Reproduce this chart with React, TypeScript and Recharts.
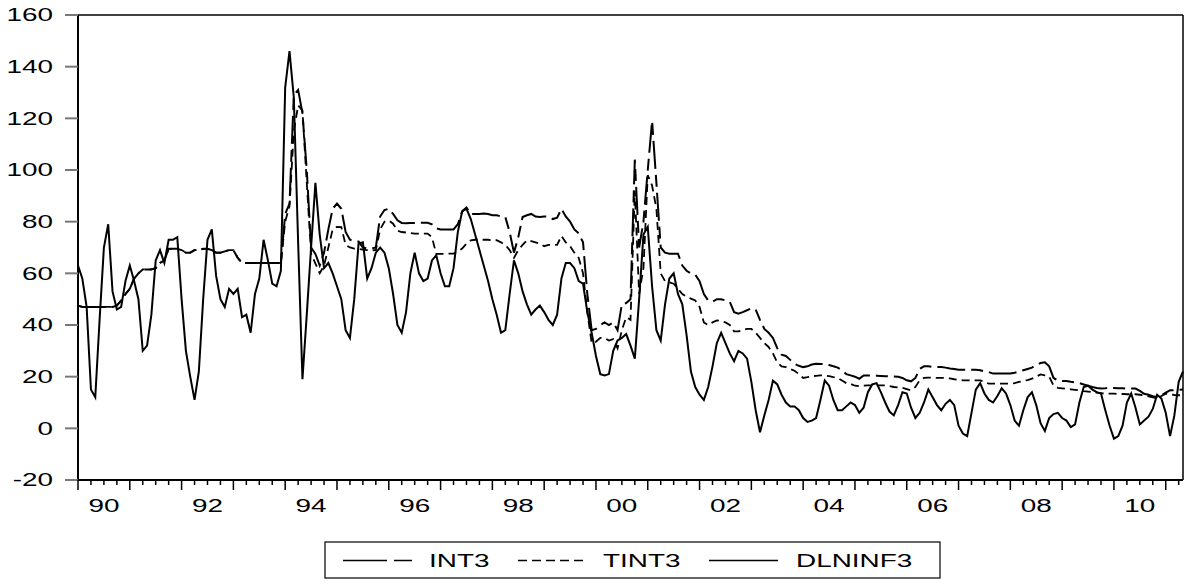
import { LineChart, Line, XAxis, YAxis, Legend, ReferenceLine } from "recharts";

// monthly, 1990:01 - 2011:05
const START_YEAR = 1990;

const dlninf3 = [
  63, 58, 47, 15, 12, 42, 70, 79, 53, 46,
  47, 57, 63, 57, 50, 30, 32, 44, 65, 69,
  64, 73, 73, 74, 50, 30, 20, 11, 22, 50,
  73, 77, 59, 50, 47, 54, 52, 54, 43, 44,
  37, 52, 58, 73, 65, 56, 55, 61, 132, 146,
  128, 72, 19, 44, 70, 95, 75, 62, 64, 60,
  55, 50, 38, 35, 50, 71.5, 72, 58, 62, 68,
  70, 68, 62, 52, 40, 37, 45, 60, 68, 60,
  57, 58, 65, 67, 60, 55, 55, 62, 76, 84,
  85, 81, 75, 69, 63, 57, 50, 44, 37, 38,
  52, 65, 60, 53, 48, 44, 46, 47.5, 45, 42,
  40, 44, 58, 64, 64, 62, 57, 56, 45, 37,
  28, 21, 20.5, 21, 30, 34, 35, 36.5, 32, 27,
  50, 75, 78, 55, 38, 34, 48, 58, 60, 52,
  48, 36, 22, 16, 13, 11, 16, 24, 33, 37,
  33, 29, 26, 30, 29, 27, 18, 7, -1.5, 5,
  11, 18.5, 17, 13, 10, 8.5, 8.5, 7, 4, 2.5,
  3, 4, 11, 18.5, 16.5, 11, 7, 7, 8.5, 10,
  9, 6, 8, 14, 17, 17.5, 14, 10, 6.5, 5,
  9, 14, 13.5, 8, 4, 6, 10, 15, 12, 9,
  7, 9.5, 11, 9, 1, -2, -3, 6, 15, 17.5,
  13.5, 11, 10, 12.5, 15.5, 13.5, 9, 3, 1, 7,
  12, 14, 9, 2, -1, 4, 5.5, 6, 4, 3,
  0.5, 1.5, 10, 16, 16.5, 15, 14, 13.5, 7, 1,
  -4, -3, 1, 10, 13.5, 8, 1.5, 3, 4.5, 7.5,
  13, 11.5, 6, -3, 5, 18, 22,
];

const int3 = [
  47.5, 47, 47, 47, 47, 47, 47, 47, 47, 47.5,
  49.5, 52, 54, 58, 60, 61.5, 61.5, 61.5, 62, 64,
  65, 69.5, 69.5, 69.5, 69, 68, 68, 69, 69, 69.5,
  69.5, 69, 68, 68, 68.5, 69, 69, 66, 64, 64,
  64, 64, 64, 64, 64, 64, 64, 64, 83, 87,
  129, 131, 122, 100, 70, 67.5, 63, 68, 77, 85,
  87, 85, 76, 73, 72.5, 72.3, 70, 69.6, 69.6, 70,
  82, 84.5, 85, 83, 80.5, 79.5, 79.4, 79.5, 79.5, 79.5,
  79.6, 79.6, 79, 77.4, 77, 77, 77, 77, 79, 84,
  85.5, 83, 83, 83, 83.2, 83, 82.5, 82.5, 82, 81.8,
  76, 68, 74, 81.8, 82.5, 83, 82, 81.8, 82, 82,
  81, 81.5, 85, 82, 80, 77, 75.5, 72, 52, 38,
  38.5, 40, 41, 40, 41, 38, 48, 48.5, 50, 104,
  70, 80, 100, 119, 95, 70, 68, 67.6, 67.6, 67.6,
  63, 61, 60, 59.5, 57, 52, 49.5, 49, 50, 50,
  49.5, 49, 45, 44.4, 45, 45.7, 46.5, 46, 42, 38.5,
  37, 35, 31, 28.5, 28, 26.5, 25, 24.2, 23.7, 24,
  24.7, 25, 24.9, 24.9, 24.5, 24, 23.5, 22.5, 21, 20.5,
  20, 19.2, 20.5, 20.5, 20.5, 20.4, 20.3, 20.2, 20.1, 20.1,
  20, 19.5, 18.6, 18.2, 19.5, 23, 24, 24, 23.8, 23.7,
  23.7, 23.5, 23.2, 23, 22.7, 22.7, 22.7, 22.7, 22.7, 22.5,
  22, 21.8, 21.2, 21.2, 21.2, 21.2, 21.2, 21.5, 22, 22.5,
  23, 23.5, 24.5, 25.3, 25.6, 24, 19.5, 18.5, 18.3, 18.3,
  18, 17.8, 17.5, 17, 16.5, 16, 15.6, 15.4, 15.5, 15.7,
  15.6, 15.5, 15.5, 15.4, 15.4, 15.4, 14.5, 13.4, 13, 12.4,
  12.1, 12.8, 13.8, 14.7, 14.8, 14.9, 15,
];

const tint3 = [
  47.5, 47, 47, 47, 47, 47, 47, 47, 47, 47.5,
  49.5, 52, 54, 58, 60, 61.5, 61.5, 61.5, 62, 64,
  65, 69.5, 69.5, 69.5, 69, 68, 68, 69, 69, 69.5,
  69.5, 69, 68, 68, 68.5, 69, 69, 66, 64, 64,
  64, 64, 64, 64, 64, 64, 64, 64, 80, 86,
  115, 125, 123, 95, 67.6, 63.8, 60, 63, 70, 77,
  78, 77.9, 71, 70, 69.6, 69.5, 69.2, 69, 68.9, 69,
  77, 80, 80.5, 79.2, 76.5, 76, 75.8, 75.6, 75.4, 75.4,
  75.4, 75.4, 74, 67.5, 67.5, 67.6, 67.6, 67.6, 68.5, 69.6,
  71.5, 72.8, 73, 73, 73, 73, 72.8, 72.8, 72, 71,
  69, 66, 69, 71, 72.8, 72.5, 72, 71.5, 70.5, 71,
  71, 71, 74.5, 72, 70.5, 68, 66, 60, 45, 33,
  33.5, 35, 35, 34, 34.5, 31, 38, 43, 42, 92,
  52, 62, 98, 94, 85, 60, 57, 56.5, 56, 54,
  52, 51, 50.2, 49.5, 47, 41, 40, 41, 41.8, 41.5,
  41, 40, 37.5, 37.5, 38, 38.5, 38.5, 37, 35, 33,
  31.5, 29, 25.5, 24, 23.7, 23, 22.3, 21, 19.5, 19.8,
  20.2, 20.3, 20.5, 20.5, 20.2, 19.8, 19.5, 18.5, 17.5, 17.2,
  16.5, 16.3, 16.5, 16.6, 16.6, 16.6, 16.6, 16.6, 16.4, 16,
  15.8, 15.7, 15.2, 14.7, 16, 18.6, 19.5, 19.6, 19.6, 19.5,
  19.5, 19.5, 19.3, 19, 18.8, 18.6, 18.6, 18.6, 18.6, 18.6,
  18, 17.3, 17.3, 17.3, 17.3, 17.3, 17.3, 17.5, 18, 18.3,
  18.7, 19.2, 20, 20.9, 20.5, 20, 16.6, 15.7, 15.5, 15.3,
  15.1, 14.9, 14.7, 14.4, 14.2, 14, 13.8, 13.6, 13.4, 13.4,
  13.4, 13.3, 13.3, 13.2, 13.2, 13.2, 13, 12.7, 12.4, 12,
  11.7, 12.5, 13.4, 13.2, 12.9, 12.8, 12.8,
];

const yearLabels = ["90", "92", "94", "96", "98", "00", "02", "04", "06", "08", "10"];
const yTicks = [-20, 0, 20, 40, 60, 80, 100, 120, 140, 160];

const series = [
  { key: "INT3", dash: "28 6 12 6", legendDash: "44 7 18", width: 2 },
  { key: "TINT3", dash: "8 5", legendDash: "9 5", width: 1.8 },
  { key: "DLNINF3", dash: undefined, legendDash: undefined, width: 2 },
];

const data = dlninf3.map((v, i) => ({
  i,
  date: `${START_YEAR + Math.floor(i / 12)}:${String((i % 12) + 1).padStart(2, "0")}`,
  INT3: int3[i],
  TINT3: tint3[i],
  DLNINF3: v,
}));

const last = data.length - 1;
const quarterTicks = data.filter((d) => d.i % 3 === 0).map((d) => d.i);

const FONT = "'Liberation Sans', Arial, sans-serif";
const STRETCH = 1.55;

function XTick(props: any) {
  const { x, y, payload } = props;
  const i = payload.value as number;
  const long = i % 12 === 0;
  const k = (i - 6) / 24;
  const label = Number.isInteger(k) ? yearLabels[k] : undefined;
  return (
    <g>
      <line x1={x} x2={x} y1={y} y2={y + (long ? 10 : 5)} stroke="#000" strokeWidth={1.5} />
      {label && (
        <text
          transform={`translate(${x},${y + 32}) scale(${STRETCH},1)`}
          textAnchor="middle"
          fontFamily={FONT}
          fontSize={18}
          fill="#000"
        >
          {label}
        </text>
      )}
    </g>
  );
}

function YTick(props: any) {
  const { x, y, payload } = props;
  return (
    <text
      transform={`translate(${x},${y}) scale(${STRETCH},1)`}
      textAnchor="end"
      dy="0.36em"
      fontFamily={FONT}
      fontSize={18}
      fill="#000"
    >
      {payload.value}
    </text>
  );
}

function LegendBox() {
  const items = [
    { s: series[0], lx: 19, tx: 105 },
    { s: series[1], lx: 194, tx: 279 },
    { s: series[2], lx: 385, tx: 472 },
  ];
  return (
    <svg width={618} height={39} style={{ display: "block" }}>
      <rect x={1} y={1} width={615} height={36} fill="#fff" stroke="#000" strokeWidth={1.2} />
      {items.map(({ s, lx, tx }) => (
        <g key={s.key}>
          <line
            x1={lx}
            x2={lx + 69}
            y1={19.5}
            y2={19.5}
            stroke="#000"
            strokeWidth={1.6}
            strokeDasharray={s.legendDash}
          />
          <text
            transform={`translate(${tx},26) scale(${STRETCH},1)`}
            fontFamily={FONT}
            fontSize={18}
            fill="#000"
          >
            {s.key}
          </text>
        </g>
      ))}
    </svg>
  );
}

export default function App() {
  return (
    <div style={{ position: "absolute", left: 0, top: 0, background: "#fff" }}>
      <LineChart width={1189} height={584} data={data} margin={{ top: 15, right: 6, bottom: 0, left: 0 }}>
        <XAxis
          dataKey="i"
          type="number"
          domain={[0, last]}
          ticks={quarterTicks}
          interval={0}
          height={104}
          tickSize={0}
          tickMargin={0}
          tickLine={false}
          axisLine={{ stroke: "#000", strokeWidth: 2 }}
          tick={<XTick />}
        />
        <YAxis
          type="number"
          domain={[-20, 160]}
          ticks={yTicks}
          interval={0}
          width={78}
          tickSize={13}
          tickMargin={12}
          tickLine={{ stroke: "#777", strokeWidth: 2 }}
          axisLine={{ stroke: "#000", strokeWidth: 2 }}
          tick={<YTick />}
        />
        <ReferenceLine y={160} stroke="#000" strokeWidth={1.5} />
        <ReferenceLine x={last} stroke="#000" strokeWidth={1.5} />
        {series.map((s) => (
          <Line
            key={s.key}
            type="linear"
            dataKey={s.key}
            stroke="#000"
            strokeWidth={s.width}
            strokeDasharray={s.dash}
            dot={false}
            activeDot={false}
            isAnimationActive={false}
          />
        ))}
        <Legend
          layout="horizontal"
          verticalAlign="middle"
          align="center"
          wrapperStyle={{ left: 324, top: 541, width: 618, height: 39 }}
          content={() => <LegendBox />}
        />
      </LineChart>
    </div>
  );
}
